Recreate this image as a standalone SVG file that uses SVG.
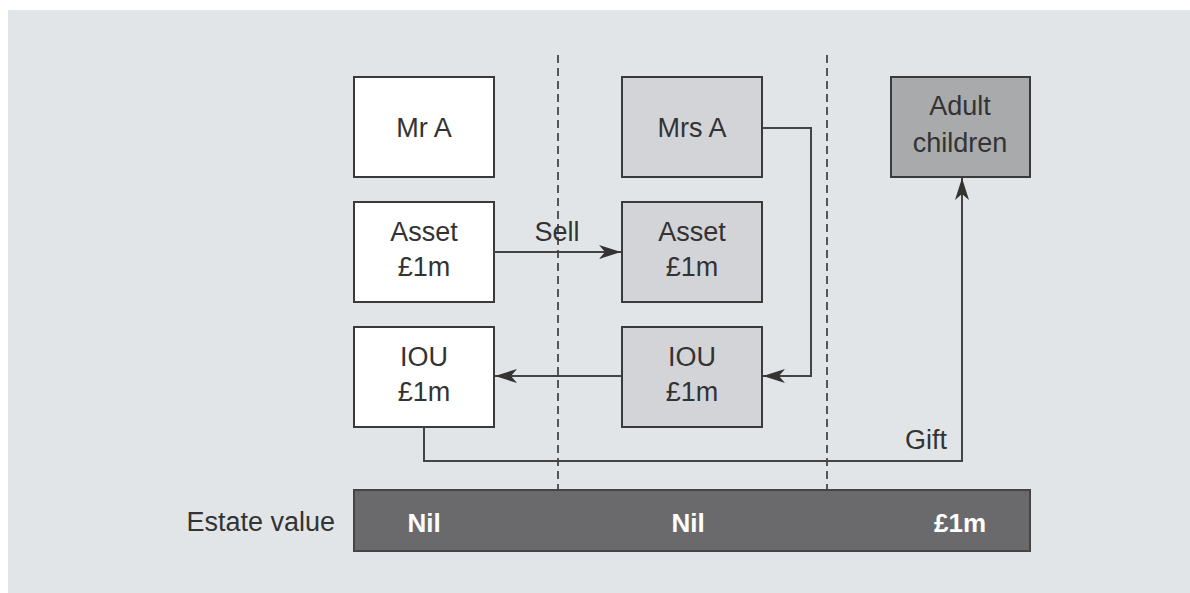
<svg xmlns="http://www.w3.org/2000/svg" width="1190" height="593" viewBox="0 0 1190 593">
<style>
.t{font-family:"Liberation Sans",Arial,sans-serif;font-size:27px;fill:#333;text-anchor:middle}
.b{font-family:"Liberation Sans",Arial,sans-serif;font-size:26px;font-weight:bold;fill:#fff;text-anchor:middle}
.box{stroke:#3a3a3a;stroke-width:2}
.w{fill:#fff}.g{fill:#d3d4d7}.d{fill:#a9aaac}
.c{fill:none;stroke:#444;stroke-width:2}
.dash{stroke:#333;stroke-width:1.6;stroke-dasharray:8 5}
</style>
<defs>
<marker id="ah" markerWidth="24" markerHeight="16" refX="22" refY="7" orient="auto" markerUnits="userSpaceOnUse">
<path d="M0,0 L22,7 L0,14 L6,7 z" fill="#333"/>
</marker>
</defs>
<rect x="0" y="0" width="1190" height="593" fill="#fff"/>
<rect x="8" y="10" width="1182" height="583" fill="#e2e5e8"/>
<g id="dividers">
<line class="dash" x1="558" y1="55" x2="558" y2="490"/>
<line class="dash" x1="827" y1="55" x2="827" y2="490"/>
</g>
<g id="mrA"><rect class="box w" x="354" y="77" width="140" height="100"/><text class="t" x="424" y="137">Mr A</text></g>
<g id="assetA"><rect class="box w" x="354" y="202" width="140" height="100"/><text class="t" x="424" y="241">Asset</text><text class="t" x="424" y="276">£1m</text></g>
<g id="iouA"><rect class="box w" x="354" y="327" width="140" height="100"/><text class="t" x="424" y="366">IOU</text><text class="t" x="424" y="401">£1m</text></g>
<g id="mrsA"><rect class="box g" x="622" y="77" width="140" height="100"/><text class="t" x="692" y="137">Mrs A</text></g>
<g id="assetB"><rect class="box g" x="622" y="202" width="140" height="100"/><text class="t" x="692" y="241">Asset</text><text class="t" x="692" y="276">£1m</text></g>
<g id="iouB"><rect class="box g" x="622" y="327" width="140" height="100"/><text class="t" x="692" y="366">IOU</text><text class="t" x="692" y="401">£1m</text></g>
<g id="children"><rect class="box d" x="891" y="77" width="139" height="100"/><text class="t" x="960" y="115">Adult</text><text class="t" x="960" y="152">children</text></g>
<g id="connectors">
<line class="c" x1="494" y1="252" x2="621" y2="252" marker-end="url(#ah)"/>
<polyline class="c" points="762,128 811,128 811,376 763,376" marker-end="url(#ah)"/>
<line class="c" x1="622" y1="376" x2="495" y2="376" marker-end="url(#ah)"/>
<polyline class="c" points="424,427 424,461 962,461 962,178" marker-end="url(#ah)"/>
<text class="t" x="557" y="241">Sell</text>
<text class="t" x="947" y="449" style="text-anchor:end">Gift</text>
</g>
<g id="estate">
<rect x="354" y="490" width="676" height="61" fill="#6a6a6d" stroke="#444" stroke-width="2"/>
<text class="t" x="335" y="531" style="text-anchor:end">Estate value</text>
<text class="b" x="424" y="532">Nil</text>
<text class="b" x="688" y="532">Nil</text>
<text class="b" x="960" y="532">£1m</text>
</g>
</svg>
